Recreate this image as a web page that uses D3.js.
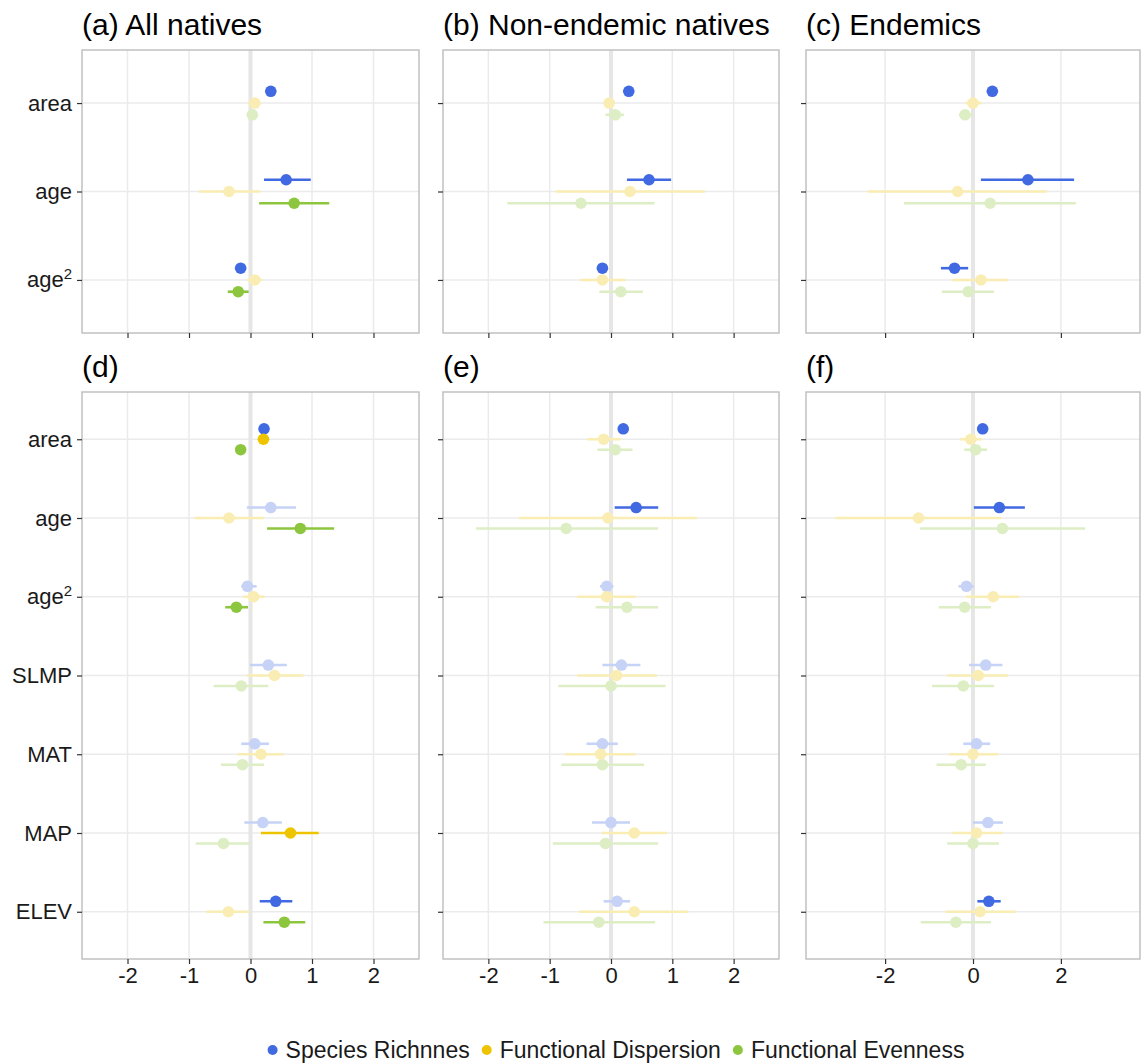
<!DOCTYPE html>
<html>
<head>
<meta charset="utf-8">
<script src="https://cdn.jsdelivr.net/npm/d3@7"></script>
<style>
  body { margin: 0; background: #fff; }
  svg { display: block; font-family: "Liberation Sans", Arial, sans-serif; }
</style>
</head>
<body>
<svg id="chart" width="1142" height="1064"></svg>
<script>
// Coefficient plot: three response metrics per predictor, six panels

// --- Data ---
const predTop = ["area", "age", "age2"];
const predBottom = ["area", "age", "age2", "SLMP", "MAT", "MAP", "ELEV"];
const seriesKeys = ["SR", "FD", "FE"];
const seriesNames = ["Species Richnnes", "Functional Dispersion", "Functional Evenness"];
const seriesColors = ["#4169E1", "#EEC400", "#8CC63E"];
const panelTitles = ["(a) All natives", "(b) Non-endemic natives", "(c) Endemics", "(d)", "(e)", "(f)"];
const ticksWide = [-2, -1, 0, 1, 2];
const ticksNarrow = [-2, 0, 2];

// rows follow the predictor order: [estimate, lower, upper, significant]
const a_SR = [[0.33, 0.26, 0.40, 1], [0.58, 0.22, 0.98, 1], [-0.16, -0.24, -0.08, 1]];
const a_FD = [[0.07, -0.03, 0.17, 0], [-0.35, -0.84, 0.16, 0], [0.07, -0.05, 0.19, 0]];
const a_FE = [[0.03, -0.06, 0.12, 0], [0.71, 0.14, 1.28, 1], [-0.20, -0.37, -0.03, 1]];

const b_SR = [[0.29, 0.22, 0.36, 1], [0.62, 0.26, 0.98, 1], [-0.14, -0.20, -0.08, 1]];
const b_FD = [[-0.03, -0.12, 0.06, 0], [0.31, -0.90, 1.53, 0], [-0.14, -0.50, 0.24, 0]];
const b_FE = [[0.07, -0.09, 0.21, 0], [-0.49, -1.69, 0.71, 0], [0.16, -0.19, 0.52, 0]];

const c_SR = [[0.44, 0.36, 0.52, 1], [1.25, 0.18, 2.30, 1], [-0.42, -0.73, -0.11, 1]];
const c_FD = [[0.00, -0.17, 0.20, 0], [-0.35, -2.40, 1.68, 0], [0.18, -0.47, 0.80, 0]];
const c_FE = [[-0.18, -0.32, 0.00, 0], [0.39, -1.57, 2.34, 0], [-0.11, -0.71, 0.48, 0]];

const d_SR = [[0.22, 0.15, 0.29, 1], [0.33, -0.06, 0.74, 0], [-0.05, -0.15, 0.10, 0], [0.29, -0.01, 0.59, 0],
              [0.07, -0.15, 0.30, 0], [0.20, -0.10, 0.51, 0], [0.41, 0.15, 0.68, 1]];
const d_FD = [[0.21, 0.12, 0.30, 1], [-0.35, -0.91, 0.22, 0], [0.05, -0.12, 0.23, 0], [0.39, -0.06, 0.86, 0],
              [0.17, -0.21, 0.54, 0], [0.65, 0.17, 1.11, 1], [-0.36, -0.72, -0.02, 0]];
const d_FE = [[-0.16, -0.24, -0.08, 1], [0.81, 0.27, 1.36, 1], [-0.23, -0.41, -0.04, 1], [-0.15, -0.60, 0.29, 0],
              [-0.13, -0.48, 0.22, 0], [-0.44, -0.89, -0.01, 0], [0.55, 0.21, 0.89, 1]];

const e_SR = [[0.20, 0.13, 0.27, 1], [0.41, 0.06, 0.77, 1], [-0.07, -0.18, 0.04, 0], [0.17, -0.14, 0.48, 0],
              [-0.14, -0.40, 0.11, 0], [0.00, -0.31, 0.31, 0], [0.10, -0.12, 0.31, 0]];
const e_FD = [[-0.12, -0.39, 0.16, 0], [-0.05, -1.50, 1.40, 0], [-0.07, -0.55, 0.40, 0], [0.09, -0.55, 0.75, 0],
              [-0.17, -0.75, 0.40, 0], [0.38, -0.15, 0.91, 0], [0.38, -0.52, 1.26, 0]];
const e_FE = [[0.07, -0.22, 0.35, 0], [-0.73, -2.20, 0.77, 0], [0.26, -0.25, 0.77, 0], [0.00, -0.86, 0.89, 0],
              [-0.14, -0.81, 0.54, 0], [-0.09, -0.95, 0.77, 0], [-0.20, -1.10, 0.72, 0]];

const f_SR = [[0.22, 0.14, 0.30, 1], [0.60, 0.02, 1.18, 1], [-0.15, -0.33, 0.02, 0], [0.29, -0.09, 0.67, 0],
              [0.08, -0.22, 0.39, 0], [0.34, 0.00, 0.68, 0], [0.36, 0.10, 0.63, 1]];
const f_FD = [[-0.05, -0.30, 0.20, 0], [-1.24, -3.13, 0.64, 0], [0.46, -0.16, 1.05, 0], [0.12, -0.59, 0.80, 0],
              [0.00, -0.55, 0.57, 0], [0.08, -0.47, 0.67, 0], [0.16, -0.62, 0.97, 0]];
const f_FE = [[0.06, -0.20, 0.32, 0], [0.67, -1.21, 2.55, 0], [-0.19, -0.78, 0.41, 0], [-0.22, -0.93, 0.48, 0],
              [-0.27, -0.83, 0.29, 0], [0.00, -0.59, 0.59, 0], [-0.39, -1.19, 0.41, 0]];

// --- Layout ---
const svg = d3.select("#chart");
const colX = [[82, 419], [443, 779], [806, 1140]];
const rowY = [[50, 333], [392, 959]];
const limWide = [-2.74, 2.74];
const limNarrow = [-3.8, 3.8];

const panels = [
    { col: 0, row: 0, preds: predTop, lim: limWide, ticks: ticksWide, sets: [a_SR, a_FD, a_FE] },
    { col: 1, row: 0, preds: predTop, lim: limWide, ticks: ticksWide, sets: [b_SR, b_FD, b_FE] },
    { col: 2, row: 0, preds: predTop, lim: limNarrow, ticks: ticksNarrow, sets: [c_SR, c_FD, c_FE] },
    { col: 0, row: 1, preds: predBottom, lim: limWide, ticks: ticksWide, sets: [d_SR, d_FD, d_FE] },
    { col: 1, row: 1, preds: predBottom, lim: limWide, ticks: ticksWide, sets: [e_SR, e_FD, e_FE] },
    { col: 2, row: 1, preds: predBottom, lim: limNarrow, ticks: ticksNarrow, sets: [f_SR, f_FD, f_FE] }
];

const faded = seriesColors.map(c => d3.interpolateRgb(c, "#fff")(0.7));

panels.forEach((p, pi) => {
    const [x0, x1] = colX[p.col];
    const [y0, y1] = rowY[p.row];
    const x = d3.scaleLinear().domain(p.lim).range([x0, x1]);
    const y = d3.scalePoint().domain(p.preds).range([y0, y1]).padding(0.6);
    const dodge = d3.scalePoint().domain(seriesKeys).range([-y.step() * 0.133, y.step() * 0.133]);
    const g = svg.append("g");

    // grid
    g.selectAll("line.vgrid").data(p.ticks).join("line")
        .attr("x1", d => x(d)).attr("x2", d => x(d))
        .attr("y1", y0).attr("y2", y1)
        .attr("stroke", "#EBEBEB").attr("stroke-width", 1.5);
    g.selectAll("line.hgrid").data(p.preds).join("line")
        .attr("x1", x0).attr("x2", x1)
        .attr("y1", d => y(d)).attr("y2", d => y(d))
        .attr("stroke", "#EBEBEB").attr("stroke-width", 1.5);
    g.append("line")
        .attr("x1", x(0)).attr("x2", x(0)).attr("y1", y0).attr("y2", y1)
        .attr("stroke", "#E6E6E6").attr("stroke-width", 4);

    // estimates with intervals
    seriesKeys.forEach((key, si) => {
        const rows = p.sets[si].map((r, j) => ({ pred: p.preds[j], est: r[0], lo: r[1], hi: r[2], sig: r[3] }));
        const colour = d => d.sig ? seriesColors[si] : faded[si];
        const sg = g.append("g");
        sg.selectAll("line").data(rows).join("line")
            .attr("x1", d => x(d.lo)).attr("x2", d => x(d.hi))
            .attr("y1", d => y(d.pred) + dodge(key)).attr("y2", d => y(d.pred) + dodge(key))
            .attr("stroke", colour).attr("stroke-width", 2.6);
        sg.selectAll("circle").data(rows).join("circle")
            .attr("cx", d => x(d.est)).attr("cy", d => y(d.pred) + dodge(key))
            .attr("r", 5.8).attr("fill", colour);
    });

    // border
    g.append("rect")
        .attr("x", x0).attr("y", y0).attr("width", x1 - x0).attr("height", y1 - y0)
        .attr("fill", "none").attr("stroke", "#BDBDBD").attr("stroke-width", 1.4);

    // axes
    const showX = p.row === 1;
    const showY = p.col === 0;
    const xAxis = g.append("g").attr("transform", `translate(0,${y1})`)
        .call(d3.axisBottom(x).tickValues(p.ticks).tickSize(5).tickPadding(3)
            .tickFormat(d => showX ? String(d) : ""));
    const yAxis = g.append("g").attr("transform", `translate(${x0},0)`)
        .call(d3.axisLeft(y).tickSize(5).tickPadding(5)
            .tickFormat(d => showY ? d : ""));
    [xAxis, yAxis].forEach(ax => {
        ax.select(".domain").remove();
        ax.selectAll(".tick line").attr("stroke", "#333").attr("stroke-width", 1.2);
        ax.selectAll(".tick text").attr("fill", "#1A1A1A").attr("font-size", 22)
            .attr("font-family", "Liberation Sans, Arial, sans-serif");
    });
    yAxis.selectAll(".tick text").filter(d => d === "age2" && showY).each(function () {
        const t = d3.select(this).text("");
        t.append("tspan").text("age");
        t.append("tspan").text("2").attr("font-size", 15).attr("dy", "-0.55em");
    });

    // title
    svg.append("text")
        .attr("x", x0).attr("y", y0 - 15)
        .attr("font-size", 30).attr("fill", "#000")
        .text(panelTitles[pi]);
});

// --- Legend ---
const legend = svg.append("g");
let cursor = 0;
seriesNames.forEach((name, i) => {
    legend.append("circle").attr("cx", cursor + 5).attr("cy", 0).attr("r", 5).attr("fill", seriesColors[i]);
    const t = legend.append("text").attr("x", cursor + 18).attr("y", 8)
        .attr("font-size", 23).attr("fill", "#1A1A1A").text(name);
    cursor += 18 + t.node().getComputedTextLength() + 12;
});
cursor -= 12;
legend.attr("transform", `translate(${616 - cursor / 2},1050)`);
</script>
</body>
</html>
